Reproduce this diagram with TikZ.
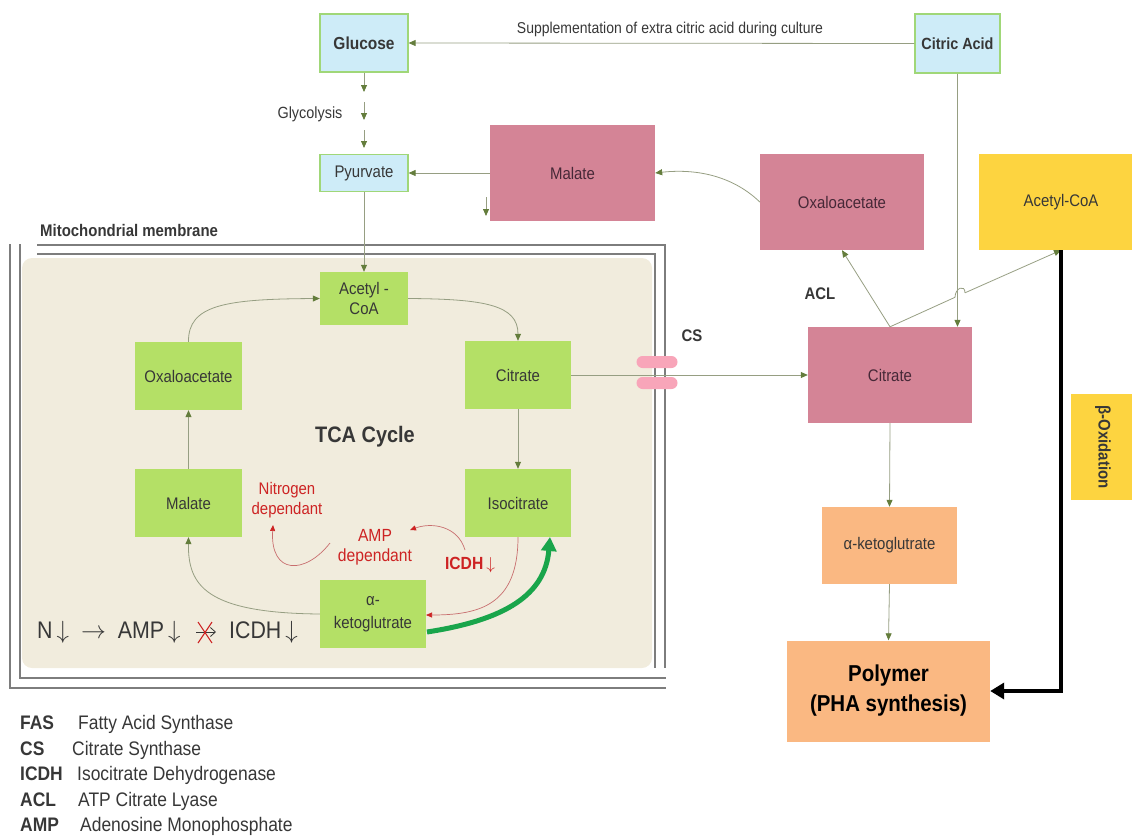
\documentclass[tikz,border=0pt]{standalone}
\usepackage{fontspec}
\setmainfont[FakeStretch=0.89]{Liberation Sans}
\usetikzlibrary{arrows.meta,calc}
\definecolor{bluef}{RGB}{206,236,248}
\definecolor{blued}{RGB}{160,215,120}
\definecolor{pinkf}{RGB}{212,132,150}
\definecolor{pinkt}{RGB}{70,40,55}
\definecolor{yellf}{RGB}{253,212,64}
\definecolor{orf}{RGB}{250,184,130}
\definecolor{grf}{RGB}{180,224,102}
\definecolor{beige}{RGB}{241,236,221}
\definecolor{lnc}{RGB}{150,158,130}
\definecolor{tipc}{RGB}{100,125,60}
\definecolor{txt}{RGB}{55,55,55}
\definecolor{redc}{RGB}{205,35,35}
\definecolor{redl}{RGB}{200,110,110}
\definecolor{thickg}{RGB}{25,165,75}
\definecolor{pillc}{RGB}{248,165,185}
\definecolor{memc}{RGB}{125,125,125}
\newcommand\fsz[2]{\fontsize{#1}{#2}\selectfont}
\begin{document}
\begin{tikzpicture}[x=1pt,y=-1pt,
  box/.style={inner sep=2pt, align=center, text=txt},
  bluebox/.style={box, fill=bluef, draw=blued, line width=1.2pt},
  pinkbox/.style={box, fill=pinkf, text=pinkt, minimum width=164pt, minimum height=96pt, font=\fsz{16.8}{20}},
  yellbox/.style={box, fill=yellf, text=txt},
  orbox/.style={box, fill=orf, text=txt},
  grbox/.style={box, fill=grf, minimum width=106pt, minimum height=68pt, font=\fsz{16.8}{22}},
  arr/.style={draw=lnc, line width=0.8pt, -{Triangle[length=7pt,width=6pt,color=tipc]}},
  redarr/.style={draw=redl, line width=0.7pt, -{Triangle[length=6pt,width=5pt,color=redc]}},
  memline/.style={draw=memc, line width=1.1pt},
  lbl/.style={text=txt, inner sep=0pt},
  legb/.style={lbl, anchor=base west, font=\bfseries\fsz{19.6}{22}},
  legt/.style={lbl, anchor=base west, font=\fsz{19.6}{22}}
]
\useasboundingbox (0,0) rectangle (1132,835);

% ---------- mitochondrion ----------
\fill[beige, rounded corners=10pt] (22,258) rectangle (652,668);
\draw[memline] (10,244) -- (10,688) -- (666,688);
\draw[memline] (20,244) -- (20,678) -- (666,678);
\draw[memline] (37,245) -- (665,245) -- (665,668);
\draw[memline] (37,254) -- (655,254) -- (655,668);
\node[lbl, anchor=west, font=\bfseries\fsz{16.8}{20}] (mtitle) at (40,230) {Mitochondrial membrane};

% ---------- top nodes ----------
\node[bluebox, minimum width=88pt, minimum height=58pt, font=\bfseries\fsz{17.4}{20}] (glu) at (364,43) {Glucose};
\node[bluebox, minimum width=85pt, minimum height=59pt, font=\bfseries\fsz{16.2}{20}] (cita) at (957.5,43.5) {Citric Acid};
\node[bluebox, minimum width=88pt, minimum height=37pt, font=\fsz{16.8}{20}] (pyr) at (364,173) {Pyurvate};
\node[pinkbox, minimum width=165pt] (pmal) at (572.5,173) {Malate};
\node[pinkbox] (poxo) at (842,202) {Oxaloacetate};
\node[yellbox, minimum width=164pt, minimum height=96pt, font=\fsz{16.8}{20}] (acoa) at (1061,202) {Acetyl-CoA};
\node[pinkbox] (ocit) at (890,375) {Citrate};
\node[orbox, minimum width=135pt, minimum height=77pt, font=\fsz{16.8}{20}] (oakg) at (889.5,545.5) {α-ketoglutrate};
\node[orbox, minimum width=203pt, minimum height=101pt, font=\bfseries\fsz{23}{30}, text=black] (poly) at (888.5,691) {Polymer\\(PHA synthesis)};
\node[yellbox, minimum width=106pt, minimum height=64pt, rotate=-90, font=\bfseries\fsz{16.8}{20}] (boxid) at (1103,447) {β-Oxidation};

% labels
\node[lbl, font=\fsz{15.7}{18}] (supl) at (670,29) {Supplementation of extra citric acid during culture};
\node[lbl, font=\fsz{16.2}{18}] (glyc) at (310,114) {Glycolysis};
\node[lbl, font=\bfseries\fsz{16.8}{20}] (acl) at (820,294) {ACL};
\node[lbl, font=\bfseries\fsz{16.8}{20}] (cs) at (692,336) {CS};

% ---------- top connectors ----------
\draw[arr] (cita.west) -- (glu.east);
\coordinate (g1) at (364,92);
\coordinate (g2a) at (364,102);
\coordinate (g2b) at (364,120);
\coordinate (g3a) at (364,130);
\coordinate (g3b) at (364,148);
\draw[arr] (glu.south) -- (g1);
\draw[arr] (g2a) -- (g2b);
\draw[arr] (g3a) -- (g3b);
\draw[arr] (pmal.west) -- (pyr.east);
\coordinate (sm1) at (486,197);
\coordinate (sm2) at (486,216);
\draw[arr] (sm1) -- (sm2);
\draw[arr] (poxo.west) .. controls (735,178) and (700,168) .. (pmal.east);
\draw[arr] (cita.south) -- (cita.south |- ocit.north);
\draw[arr] (ocit.north) -- (poxo.south);
\coordinate (h1) at (955,297.3);
\coordinate (h2) at (965,292.8);
\draw[draw=lnc, line width=0.8pt] (ocit.north) -- (h1) .. controls (955,288) and (965,284) .. (h2);
\draw[arr] (h2) -- (acoa.south);
\draw[arr] (ocit.south) -- (oakg.north);
\draw[arr] (oakg.south) -- (poly.north);
\coordinate (bk) at (1061,691);
\draw[line width=4pt, -{Triangle[length=14pt,width=16pt]}] (acoa.south) -- (bk) -- (poly.east);

% ---------- TCA cycle ----------
\node[grbox, minimum width=88pt, minimum height=53pt, font=\fsz{16.8}{20}] (tac) at (364,298.5) {Acetyl -\\CoA};
\node[grbox] (tcit) at (518,375) {Citrate};
\node[grbox, minimum width=107pt] (toxo) at (188.5,376) {Oxaloacetate};
\node[grbox] (tiso) at (518,503) {Isocitrate};
\node[grbox, minimum width=107pt] (tmal) at (188.5,503) {Malate};
\node[grbox, font=\fsz{16.8}{23}] (takg) at (373,614) {α-\\ketoglutrate};
\node[lbl, font=\bfseries\fsz{22.4}{26}] (tca) at (365,437) {TCA Cycle};

\draw[arr] (pyr.south) -- (tac.north);
\draw[arr] (toxo.north) .. controls (188,305) and (225,299) .. (tac.west);
\draw[arr] (tac.east) .. controls (485,299) and (518,305) .. (tcit.north);
\draw[arr] (tcit.south) -- (tiso.north);
\draw[arr] (tmal.north) -- (toxo.south);
\draw[arr] (takg.west) .. controls (205,613) and (188,585) .. (tmal.south);

% red regulation
\node[lbl, text=redc, font=\fsz{16.8}{20}, align=center] (nitro) at (287,500) {Nitrogen\\dependant};
\node[lbl, text=redc, font=\fsz{17.6}{20}, align=center] (ampd) at (375,547) {AMP\\dependant};
\node[lbl, text=redc, font=\bfseries\fsz{17.6}{20}] (icdh) at (470,565) {ICDH\,$\downarrow$};
\coordinate (isoS) at (518,537);
\coordinate (r1) at (465,550);
\coordinate (r1t) at (410,530);
\coordinate (r2) at (330,543);
\coordinate (r2t) at (273,525);
\coordinate (akE) at (426,615);
\draw[redarr] (isoS) .. controls (518,605) and (480,615) .. (akE);
\draw[redarr] (r1) .. controls (458,526) and (432,522) .. (r1t);
\draw[redarr] (r2) .. controls (305,575) and (270,575) .. (r2t);

% thick green
\coordinate (gS) at (427,632);
\coordinate (gE) at (550,537);
\draw[draw=thickg, line width=5pt, -{Triangle[length=14pt,width=15pt]}] (gS) .. controls (505,620) and (545,595) .. (gE);

% equation
\node[lbl, anchor=west, font=\fsz{24}{28}] (eq1) at (37,632) {N\,$\downarrow$\enspace$\rightarrow$\enspace AMP\,$\downarrow$};
\node[lbl, anchor=west, font=\fsz{24}{28}] (eq2) at (229,632) {ICDH\,$\downarrow$};
\coordinate (xa) at (196,632);
\coordinate (xb) at (216,632);
\draw[draw=txt, line width=0.8pt, -{Straight Barb[length=5pt,width=9pt]}] (xa) -- (xb);
\draw[draw=redc, line width=1.1pt] (198,622) -- (212,643) (198,643) -- (212,622);

% membrane channel
\node[fill=pillc, rounded corners=6pt, minimum width=41pt, minimum height=12pt, inner sep=0pt] (pill1) at (657,362) {};
\node[fill=pillc, rounded corners=6pt, minimum width=41pt, minimum height=12pt, inner sep=0pt] (pill2) at (657,383) {};
\draw[arr] (tcit.east) -- (ocit.west);

% ---------- legend ----------
\node[legb] (l1a) at (20,729) {FAS};
\node[legt] (l1b) at (78,729) {Fatty Acid Synthase};
\node[legb] (l2a) at (20,755) {CS};
\node[legt] (l2b) at (72,755) {Citrate Synthase};
\node[legb] (l3a) at (20,780) {ICDH};
\node[legt] (l3b) at (77,780) {Isocitrate Dehydrogenase};
\node[legb] (l4a) at (20,806) {ACL};
\node[legt] (l4b) at (78,806) {ATP Citrate Lyase};
\node[legb] (l5a) at (20,831) {AMP};
\node[legt] (l5b) at (80,831) {Adenosine Monophosphate};
\end{tikzpicture}
\end{document}
